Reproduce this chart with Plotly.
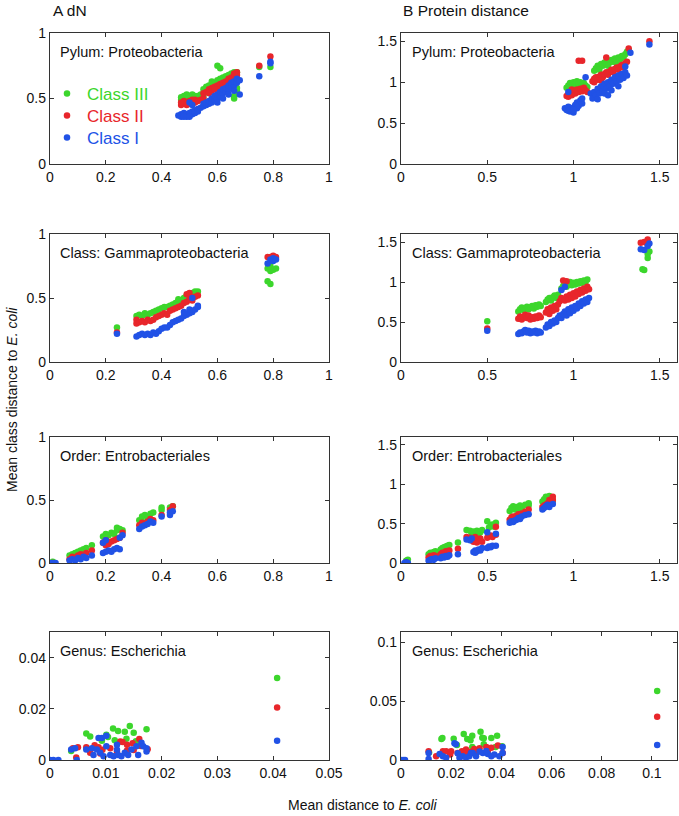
import plotly.graph_objects as go

# ---------------- data ----------------
# Panel A1: dN, Phylum Proteobacteria
dn_phy_c3_x = [0.47,0.48,0.48,0.49,0.50,0.50,0.51,0.52,0.52,0.53,0.54,0.55,0.47,0.49,
               0.55,0.56,0.57,0.58,0.58,0.59,0.60,0.60,0.61,0.62,0.62,0.63,0.64,0.64,0.65,0.66,0.66,0.67,0.63,0.61,0.57,0.59,
               0.60,0.61,0.79,0.66,0.67,0.67,0.66,0.75]
dn_phy_c3_y = [0.49,0.50,0.52,0.51,0.52,0.50,0.53,0.52,0.51,0.52,0.53,0.52,0.51,0.53,
               0.57,0.59,0.60,0.61,0.63,0.62,0.64,0.62,0.65,0.64,0.66,0.67,0.66,0.68,0.69,0.70,0.68,0.70,0.65,0.63,0.58,0.60,
               0.75,0.73,0.74,0.50,0.56,0.58,0.52,0.74]
dn_phy_c2_x = [0.47,0.48,0.48,0.49,0.50,0.50,0.51,0.52,0.52,0.53,0.54,0.55,0.47,0.49,0.51,
               0.55,0.56,0.57,0.58,0.58,0.59,0.60,0.60,0.61,0.62,0.62,0.63,0.64,0.64,0.65,0.66,0.66,0.67,0.67,0.65,0.63,0.57,0.59,
               0.75,0.79]
dn_phy_c2_y = [0.45,0.46,0.48,0.47,0.46,0.48,0.49,0.47,0.49,0.48,0.49,0.50,0.47,0.45,0.46,
               0.54,0.55,0.57,0.58,0.56,0.59,0.60,0.58,0.61,0.62,0.60,0.63,0.63,0.65,0.66,0.67,0.69,0.70,0.68,0.64,0.61,0.54,0.57,
               0.75,0.82]
dn_phy_c1_x = [0.46,0.47,0.47,0.48,0.48,0.49,0.49,0.50,0.50,0.51,0.51,0.52,0.52,0.53,0.48,0.50,0.51,0.50,
               0.53,0.54,0.55,0.55,0.56,0.56,0.57,0.57,0.58,0.58,0.59,0.59,0.60,0.60,0.61,0.61,0.62,0.62,0.63,0.63,
               0.64,0.64,0.65,0.65,0.66,0.66,0.67,0.67,0.68,0.68,0.64,0.62,0.60,0.66,
               0.75,0.79,0.79]
dn_phy_c1_y = [0.37,0.38,0.36,0.37,0.39,0.38,0.36,0.37,0.39,0.38,0.40,0.39,0.41,0.40,0.36,0.36,0.45,0.47,
               0.42,0.43,0.44,0.46,0.45,0.47,0.46,0.48,0.47,0.50,0.49,0.52,0.50,0.53,0.52,0.55,0.54,0.57,0.55,0.58,
               0.57,0.60,0.59,0.62,0.60,0.63,0.62,0.65,0.64,0.53,0.53,0.50,0.47,0.56,
               0.67,0.77,0.78]

# Panel B1: protein distance, Phylum Proteobacteria
pr_phy_c3_x = [0.96,0.97,0.98,0.99,1.00,1.01,1.02,1.03,1.04,1.05,1.06,1.07,1.08,0.98,
               1.12,1.13,1.14,1.15,1.16,1.17,1.18,1.19,1.20,1.21,1.22,1.23,1.24,1.25,1.26,1.27,1.28,1.29,1.30,1.31,1.32,1.15,1.20,1.25]
pr_phy_c3_y = [0.93,0.96,0.99,0.95,1.00,0.97,1.01,0.98,1.00,0.97,0.99,0.96,0.94,0.92,
               1.14,1.17,1.20,1.18,1.22,1.20,1.24,1.22,1.26,1.24,1.27,1.25,1.29,1.27,1.30,1.28,1.32,1.30,1.34,1.37,1.39,1.15,1.20,1.23]
pr_phy_c2_x = [0.96,0.97,0.98,0.99,1.00,1.00,1.01,1.02,1.03,1.04,1.05,1.06,1.07,1.08,0.97,0.99,
               1.03,1.05,1.19,1.32,1.44,
               1.11,1.12,1.13,1.14,1.15,1.16,1.17,1.18,1.19,1.20,1.21,1.22,1.23,1.24,1.25,1.26,1.27,1.28,1.29,1.30,1.31,1.12,1.16]
pr_phy_c2_y = [0.83,0.85,0.88,0.84,0.87,0.90,0.86,0.91,0.88,0.92,0.89,0.93,0.90,0.88,0.82,0.91,
               1.26,1.26,1.30,1.41,1.50,
               1.01,1.04,1.06,1.03,1.07,1.09,1.06,1.10,1.12,1.09,1.13,1.15,1.12,1.16,1.18,1.15,1.19,1.21,1.18,1.23,1.25,1.00,1.02]
pr_phy_c1_x = [0.95,0.96,0.97,0.98,0.99,1.00,1.00,1.01,1.02,1.02,1.03,1.04,1.05,1.05,0.97,1.00,
               1.10,1.11,1.12,1.13,1.14,1.15,1.16,1.17,1.18,1.19,1.20,1.21,1.22,1.23,1.24,1.25,1.26,1.27,1.28,1.29,1.30,1.31,
               1.18,1.22,1.26,1.14,1.20,
               1.07,1.30,1.33,1.44,0.97]
pr_phy_c1_y = [0.68,0.66,0.70,0.64,0.67,0.69,0.63,0.72,0.68,0.75,0.71,0.78,0.74,0.80,0.65,0.66,
               0.86,0.80,0.88,0.84,0.92,0.86,0.95,0.89,0.98,0.92,1.00,0.95,1.03,0.98,1.06,1.01,1.08,1.03,1.10,1.05,1.12,1.08,
               0.86,0.90,0.95,0.79,0.84,
               1.06,1.19,1.36,1.46,0.88]

# Panel A2: dN, Class Gammaproteobacteria
dn_cls_c3_x = [0.24,0.31,0.32,0.33,0.34,0.35,0.36,0.37,0.38,0.39,0.40,0.41,0.42,0.43,0.44,0.45,0.46,0.47,0.48,0.49,
               0.50,0.51,0.52,0.53,0.52,0.50,0.46,0.78,0.79,0.80,0.81,0.79,0.78,0.79]
dn_cls_c3_y = [0.27,0.36,0.37,0.36,0.38,0.37,0.38,0.39,0.40,0.41,0.42,0.43,0.43,0.44,0.45,0.46,0.47,0.48,0.50,0.52,
               0.53,0.54,0.55,0.55,0.53,0.51,0.49,0.73,0.71,0.72,0.73,0.75,0.63,0.61]
dn_cls_c2_x = [0.24,0.31,0.31,0.32,0.33,0.34,0.35,0.36,0.37,0.38,0.39,0.40,0.41,0.42,0.43,0.44,0.45,0.46,0.47,0.48,
               0.49,0.50,0.51,0.52,0.53,0.49,0.50,0.51,0.78,0.79,0.80,0.81]
dn_cls_c2_y = [0.23,0.30,0.33,0.31,0.32,0.31,0.33,0.32,0.33,0.35,0.36,0.37,0.38,0.37,0.40,0.41,0.42,0.43,0.44,0.46,
               0.47,0.49,0.50,0.51,0.52,0.53,0.54,0.48,0.82,0.82,0.83,0.82]
dn_cls_c1_x = [0.24,0.31,0.32,0.33,0.34,0.35,0.36,0.37,0.38,0.39,0.40,0.41,0.42,0.43,0.44,0.45,0.46,0.47,0.48,0.49,
               0.50,0.51,0.52,0.53,0.53,0.50,0.48,0.51,0.78,0.79,0.80,0.80,0.81]
dn_cls_c1_y = [0.22,0.20,0.21,0.22,0.21,0.22,0.21,0.23,0.22,0.24,0.26,0.27,0.27,0.29,0.31,0.32,0.33,0.34,0.36,0.37,
               0.38,0.39,0.41,0.43,0.44,0.41,0.39,0.50,0.77,0.80,0.81,0.79,0.80]

# Panel B2: protein distance, Class Gammaproteobacteria
pr_cls_c3_x = [0.50,0.68,0.69,0.70,0.71,0.72,0.73,0.74,0.75,0.76,0.77,0.78,0.79,0.80,0.81,0.84,0.85,0.86,0.87,0.88,
               0.89,0.90,0.91,0.93,0.94,0.95,0.96,0.97,0.98,0.99,1.00,1.01,1.02,1.03,1.04,1.05,1.06,1.07,1.08,
               1.40,1.41,1.43,1.43,1.44]
pr_cls_c3_y = [0.51,0.63,0.66,0.68,0.65,0.67,0.69,0.66,0.68,0.70,0.67,0.71,0.69,0.72,0.70,0.75,0.78,0.80,0.77,0.81,
               0.83,0.80,0.84,0.92,0.95,0.98,0.94,0.97,1.00,0.96,0.99,0.97,1.00,0.98,1.01,0.99,1.02,1.00,1.03,
               1.16,1.15,1.30,1.35,1.38]
pr_cls_c2_x = [0.50,0.68,0.69,0.70,0.71,0.72,0.73,0.74,0.75,0.76,0.77,0.78,0.79,0.80,0.81,0.84,0.85,0.86,0.87,0.88,
               0.89,0.90,0.91,0.92,0.93,0.94,0.95,0.96,0.96,0.97,0.98,0.99,1.00,1.01,1.02,1.03,1.04,1.05,1.06,1.07,
               1.08,1.09,1.39,1.41,1.43,1.43]
pr_cls_c2_y = [0.42,0.54,0.57,0.53,0.56,0.59,0.55,0.58,0.53,0.56,0.54,0.57,0.55,0.58,0.56,0.62,0.66,0.60,0.68,0.64,
               0.70,0.66,0.72,0.76,0.80,1.02,0.77,1.01,0.82,0.78,0.84,0.80,0.86,0.82,0.88,0.85,0.90,0.87,0.92,0.89,
               0.94,0.91,1.49,1.50,1.53,1.47]
pr_cls_c1_x = [0.50,0.68,0.69,0.70,0.71,0.72,0.73,0.74,0.75,0.76,0.77,0.78,0.79,0.80,0.81,0.84,0.85,0.86,0.87,0.88,
               0.89,0.90,0.91,0.92,0.93,0.93,0.94,0.95,0.95,0.96,0.97,0.98,0.99,1.00,1.01,1.02,1.03,1.04,1.05,1.06,
               1.07,1.08,1.09,1.39,1.41,1.43,1.44]
pr_cls_c1_y = [0.39,0.35,0.37,0.36,0.38,0.40,0.37,0.39,0.36,0.38,0.37,0.39,0.36,0.38,0.37,0.43,0.47,0.45,0.50,0.48,
               0.52,0.50,0.55,0.58,0.90,0.55,0.60,0.94,0.63,0.58,0.66,0.61,0.68,0.64,0.70,0.67,0.73,0.70,0.76,0.73,
               0.78,0.75,0.80,1.41,1.40,1.45,1.48]

# Panel A3: dN, Order Entrobacteriales
dn_ord_c3_x = [0.01,0.07,0.08,0.09,0.10,0.11,0.12,0.13,0.08,0.10,0.12,0.15,0.19,0.20,0.21,0.22,0.23,0.24,0.24,0.25,
               0.26,0.20,0.32,0.33,0.34,0.35,0.33,0.36,0.37,0.40,0.40,0.43,0.44]
dn_ord_c3_y = [0.01,0.06,0.07,0.08,0.09,0.10,0.11,0.12,0.05,0.07,0.09,0.14,0.21,0.23,0.22,0.24,0.23,0.26,0.28,0.27,
               0.26,0.20,0.34,0.37,0.38,0.36,0.33,0.39,0.40,0.44,0.42,0.44,0.45]
dn_ord_c2_x = [0.01,0.07,0.08,0.09,0.10,0.11,0.12,0.13,0.15,0.19,0.20,0.21,0.22,0.23,0.24,0.25,0.26,0.20,0.32,0.33,
               0.34,0.35,0.36,0.37,0.40,0.43,0.44]
dn_ord_c2_y = [0.00,0.03,0.05,0.04,0.06,0.07,0.06,0.08,0.10,0.16,0.18,0.15,0.17,0.18,0.19,0.20,0.24,0.14,0.30,0.32,
               0.31,0.33,0.35,0.34,0.38,0.42,0.45]
dn_ord_c1_x = [0.00,0.01,0.02,0.07,0.08,0.09,0.10,0.11,0.12,0.13,0.15,0.19,0.20,0.21,0.22,0.23,0.24,0.25,0.19,0.20,
               0.25,0.26,0.32,0.33,0.34,0.35,0.36,0.37,0.40,0.43,0.43,0.44]
dn_ord_c1_y = [0.00,0.00,0.00,0.02,0.03,0.02,0.04,0.03,0.05,0.04,0.06,0.08,0.09,0.10,0.09,0.11,0.12,0.11,0.16,0.18,
               0.20,0.22,0.27,0.29,0.30,0.31,0.33,0.32,0.37,0.38,0.40,0.41]

# Panel B3: protein distance, Order Entrobacteriales
pr_ord_c3_x = [0.03,0.04,0.16,0.17,0.18,0.19,0.20,0.17,0.23,0.24,0.25,0.26,0.27,0.28,0.25,0.33,0.38,0.40,0.41,0.42,
               0.43,0.44,0.45,0.46,0.47,0.44,0.50,0.51,0.52,0.53,0.55,0.54,0.63,0.64,0.65,0.66,0.67,0.68,0.69,0.70,
               0.72,0.74,0.74,0.82,0.83,0.84,0.85,0.86,0.88]
pr_ord_c3_y = [0.03,0.04,0.11,0.13,0.12,0.14,0.15,0.10,0.17,0.19,0.20,0.21,0.22,0.23,0.16,0.26,0.42,0.41,0.38,0.40,
               0.36,0.41,0.37,0.39,0.42,0.34,0.53,0.45,0.47,0.49,0.51,0.46,0.66,0.70,0.72,0.68,0.71,0.69,0.73,0.70,
               0.74,0.76,0.73,0.78,0.81,0.84,0.82,0.85,0.79]
pr_ord_c2_x = [0.03,0.16,0.17,0.18,0.19,0.20,0.23,0.24,0.25,0.26,0.27,0.28,0.33,0.38,0.40,0.41,0.42,0.43,0.44,0.45,
               0.46,0.47,0.43,0.50,0.51,0.52,0.53,0.55,0.55,0.63,0.64,0.65,0.66,0.67,0.68,0.69,0.70,0.72,0.74,0.82,
               0.83,0.84,0.85,0.86,0.88,0.88]
pr_ord_c2_y = [0.01,0.07,0.09,0.08,0.10,0.09,0.11,0.13,0.12,0.15,0.14,0.16,0.18,0.33,0.32,0.29,0.27,0.30,0.26,0.28,
               0.31,0.27,0.33,0.32,0.34,0.35,0.33,0.36,0.46,0.55,0.58,0.59,0.57,0.60,0.62,0.59,0.63,0.65,0.68,0.71,
               0.73,0.74,0.76,0.80,0.84,0.80]
pr_ord_c1_x = [0.02,0.03,0.04,0.16,0.17,0.18,0.19,0.20,0.23,0.24,0.25,0.26,0.27,0.28,0.33,0.38,0.40,0.41,0.42,0.43,
               0.44,0.45,0.46,0.47,0.43,0.50,0.51,0.52,0.53,0.55,0.55,0.50,0.63,0.64,0.65,0.66,0.67,0.68,0.69,0.70,
               0.72,0.74,0.82,0.83,0.84,0.85,0.86,0.88]
pr_ord_c1_y = [0.00,0.01,0.00,0.03,0.04,0.05,0.04,0.06,0.06,0.08,0.07,0.09,0.08,0.10,0.11,0.30,0.29,0.31,0.14,0.16,
               0.15,0.17,0.16,0.19,0.13,0.19,0.21,0.20,0.22,0.22,0.37,0.39,0.51,0.53,0.52,0.54,0.55,0.57,0.56,0.59,
               0.61,0.62,0.68,0.70,0.72,0.74,0.71,0.75]

# Panel A4: dN, Genus Escherichia
dn_gen_c3_x = [0.0065,0.0072,0.0113,0.0122,0.0134,0.0143,0.0150,0.0173,0.0101,0.0104,0.0093,0.0116,0.0137,0.0154,
               0.0160,0.0038,0.0407]
dn_gen_c3_y = [0.0104,0.0092,0.0123,0.0113,0.0110,0.0133,0.0106,0.0120,0.0099,0.0090,0.0075,0.0077,0.0083,0.0073,
               0.0060,0.0035,0.0320]
dn_gen_c2_x = [0.0041,0.0050,0.0065,0.0080,0.0087,0.0094,0.0108,0.0126,0.0130,0.0138,0.0148,0.0160,0.0163,0.0175,
               0.0120,0.0072,0.0047,0.0090,0.0138,0.0150,0.0407]
dn_gen_c2_y = [0.0046,0.0050,0.0050,0.0058,0.0050,0.0040,0.0046,0.0072,0.0070,0.0060,0.0065,0.0082,0.0055,0.0042,
               0.0032,0.0028,0.0010,0.0025,0.0037,0.0039,0.0205]
dn_gen_c1_x = [0.0000,0.0006,0.0015,0.0038,0.0045,0.0048,0.0065,0.0075,0.0084,0.0087,0.0093,0.0101,0.0090,0.0096,
               0.0108,0.0114,0.0120,0.0122,0.0128,0.0134,0.0140,0.0146,0.0155,0.0164,0.0167,0.0158,0.0173,0.0173,
               0.0120,0.0101,0.0078,0.0407]
dn_gen_c1_y = [0.0000,0.0000,0.0000,0.0041,0.0046,0.0000,0.0041,0.0046,0.0041,0.0086,0.0086,0.0095,0.0028,0.0015,
               0.0020,0.0015,0.0040,0.0020,0.0015,0.0028,0.0020,0.0041,0.0054,0.0067,0.0054,0.0020,0.0033,0.0046,
               0.0060,0.0054,0.0020,0.0075]

# Panel B4: protein distance, Genus Escherichia
pr_gen_c3_x = [0.0161,0.0165,0.0210,0.0250,0.0264,0.0277,0.0284,0.0317,0.0324,0.0330,0.0360,0.0383,0.0330,0.0284,
               0.0403,0.0377,0.0223,0.0112,0.1021]
pr_gen_c3_y = [0.0177,0.0186,0.0180,0.0220,0.0177,0.0168,0.0205,0.0240,0.0188,0.0185,0.0186,0.0206,0.0134,0.0111,
               0.0117,0.0111,0.0128,0.0063,0.0584]
pr_gen_c2_x = [0.0110,0.0167,0.0180,0.0200,0.0226,0.0243,0.0259,0.0279,0.0292,0.0300,0.0313,0.0340,0.0360,0.0386,
               0.0405,0.0240,0.0140,0.0196,0.0346,0.0262,0.1021]
pr_gen_c2_y = [0.0074,0.0074,0.0074,0.0074,0.0060,0.0074,0.0090,0.0070,0.0094,0.0060,0.0100,0.0111,0.0103,0.0123,
               0.0060,0.0031,0.0031,0.0046,0.0077,0.0057,0.0367]
pr_gen_c1_x = [0.0110,0.0110,0.0154,0.0167,0.0180,0.0213,0.0219,0.0226,0.0246,0.0259,0.0272,0.0286,0.0299,0.0313,
               0.0326,0.0346,0.0360,0.0372,0.0392,0.0405,0.0405,0.0340,0.0233,0.0279,0.0000,0.0008,0.0016,0.1021]
pr_gen_c1_y = [0.0060,0.0009,0.0051,0.0031,0.0020,0.0143,0.0134,0.0057,0.0031,0.0020,0.0031,0.0060,0.0031,0.0071,
               0.0060,0.0051,0.0031,0.0046,0.0031,0.0111,0.0060,0.0077,0.0020,0.0060,0.0000,0.0000,0.0000,0.0128]

# Axis settings / labels
x_ticks_dn = [0, 0.2, 0.4, 0.6, 0.8, 1]
x_ticks_pr = [0, 0.5, 1, 1.5]
y_ticks_dn = [0, 0.5, 1]
y_ticks_pr = [0, 0.5, 1, 1.5]
x_ticks_dn_gen = [0, 0.01, 0.02, 0.03, 0.04, 0.05]
x_ticks_pr_gen = [0, 0.02, 0.04, 0.06, 0.08, 0.1]
y_ticks_dn_gen = [0, 0.02, 0.04]
y_ticks_pr_gen = [0, 0.05, 0.1]

panel_labels = ["Pylum: Proteobacteria", "Pylum: Proteobacteria",
                "Class: Gammaproteobacteria", "Class: Gammaproteobacteria",
                "Order: Entrobacteriales", "Order: Entrobacteriales",
                "Genus: Escherichia", "Genus: Escherichia"]
class_names = ["Class III", "Class II", "Class I"]
colors = ["#3cd62c", "#e8262b", "#2152e6"]

panels = [
    ((dn_phy_c3_x, dn_phy_c3_y), (dn_phy_c2_x, dn_phy_c2_y), (dn_phy_c1_x, dn_phy_c1_y)),
    ((pr_phy_c3_x, pr_phy_c3_y), (pr_phy_c2_x, pr_phy_c2_y), (pr_phy_c1_x, pr_phy_c1_y)),
    ((dn_cls_c3_x, dn_cls_c3_y), (dn_cls_c2_x, dn_cls_c2_y), (dn_cls_c1_x, dn_cls_c1_y)),
    ((pr_cls_c3_x, pr_cls_c3_y), (pr_cls_c2_x, pr_cls_c2_y), (pr_cls_c1_x, pr_cls_c1_y)),
    ((dn_ord_c3_x, dn_ord_c3_y), (dn_ord_c2_x, dn_ord_c2_y), (dn_ord_c1_x, dn_ord_c1_y)),
    ((pr_ord_c3_x, pr_ord_c3_y), (pr_ord_c2_x, pr_ord_c2_y), (pr_ord_c1_x, pr_ord_c1_y)),
    ((dn_gen_c3_x, dn_gen_c3_y), (dn_gen_c2_x, dn_gen_c2_y), (dn_gen_c1_x, dn_gen_c1_y)),
    ((pr_gen_c3_x, pr_gen_c3_y), (pr_gen_c2_x, pr_gen_c2_y), (pr_gen_c1_x, pr_gen_c1_y)),
]

W, H = 679, 816
col_px = [(50, 329), (401, 677)]
row_px = [(33, 164), (234, 362), (437, 563), (632, 760)]

x_ranges = [[0, 1], [0, 1.6]] * 3 + [[0, 0.05], [0, 0.11]]
y_ranges = [[0, 1], [0, 1.6]] * 3 + [[0, 0.05], [0, 0.1085]]
x_tickv = [x_ticks_dn, x_ticks_pr] * 3 + [x_ticks_dn_gen, x_ticks_pr_gen]
y_tickv = [y_ticks_dn, y_ticks_pr] * 3 + [y_ticks_dn_gen, y_ticks_pr_gen]

FONT = "Liberation Sans, Arial, Helvetica, sans-serif"
AXC = "#333333"
legend_ids = ["legend", "legend2", "legend3"]
legend_row_px = [93, 115, 137]

fig = go.Figure()
layout = dict(width=W, height=H, margin=dict(l=0, r=0, t=0, b=0, autoexpand=False),
              paper_bgcolor="white", plot_bgcolor="white",
              font=dict(family=FONT, size=14, color="#111111"),
              showlegend=True)
annotations = []

for i, series in enumerate(panels):
    r, c = divmod(i, 2)
    n = i + 1
    xs = "" if n == 1 else str(n)
    for k, (sx, sy) in enumerate(series):
        fig.add_trace(go.Scatter(
            x=sx, y=sy, mode="markers",
            marker=dict(color=colors[k], size=6.5, line=dict(width=0)),
            name=f"<span style='color:{colors[k]}'>{class_names[k]}</span>",
            showlegend=(i == 0), legend=legend_ids[k],
            xaxis="x" + xs, yaxis="y" + xs, hoverinfo="x+y"))
    x0, x1 = col_px[c]
    y0, y1 = row_px[r]
    common = dict(showline=True, linecolor=AXC, linewidth=1.3, mirror="allticks",
                  ticks="inside", ticklen=4, tickwidth=1.1, tickcolor=AXC,
                  showgrid=False, zeroline=False, tickmode="array", automargin=False,
                  tickfont=dict(size=14, family=FONT, color="#111111"))
    layout["xaxis" + xs] = dict(domain=[x0 / W, x1 / W], range=x_ranges[i],
                                tickvals=x_tickv[i], anchor="y" + xs, **common)
    layout["yaxis" + xs] = dict(domain=[1 - y1 / H, 1 - y0 / H], range=y_ranges[i],
                                tickvals=y_tickv[i], anchor="x" + xs, **common)
    annotations.append(dict(text=panel_labels[i], xref="paper", yref="paper",
                            x=(x0 + (8 if c == 0 else 9)) / W,
                            y=1 - (y0 + 19) / H, xanchor="left", yanchor="middle",
                            showarrow=False, font=dict(size=14.5, family=FONT, color="#111111")))

annotations += [
    dict(text="A dN", xref="paper", yref="paper", x=51 / W, y=1 - 11 / H,
         xanchor="left", yanchor="middle", showarrow=False, font=dict(size=15.5, family=FONT)),
    dict(text="B Protein distance", xref="paper", yref="paper", x=401 / W, y=1 - 11 / H,
         xanchor="left", yanchor="middle", showarrow=False, font=dict(size=15.5, family=FONT)),
    dict(text="Mean distance to <i>E. coli</i>", xref="paper", yref="paper", x=363 / W, y=1 - 805 / H,
         xanchor="center", yanchor="middle", showarrow=False, font=dict(size=14, family=FONT)),
    dict(text="Mean class distance to <i>E. coli</i>", xref="paper", yref="paper", x=12 / W, y=1 - 400 / H,
         xanchor="center", yanchor="middle", showarrow=False, textangle=-90, font=dict(size=14, family=FONT)),
]
layout["annotations"] = annotations
for k, lid in enumerate(legend_ids):
    layout[lid] = dict(x=47 / W, y=1 - (legend_row_px[k] - 17) / H, xanchor="left", yanchor="top",
                       bgcolor="rgba(0,0,0,0)", font=dict(size=17, family=FONT),
                       itemsizing="trace")
fig.update_layout(**layout)

fig.write_html("out.html", config={"displayModeBar": False},
               post_script="document.body.style.margin='0px';document.body.style.overflow='hidden';")
